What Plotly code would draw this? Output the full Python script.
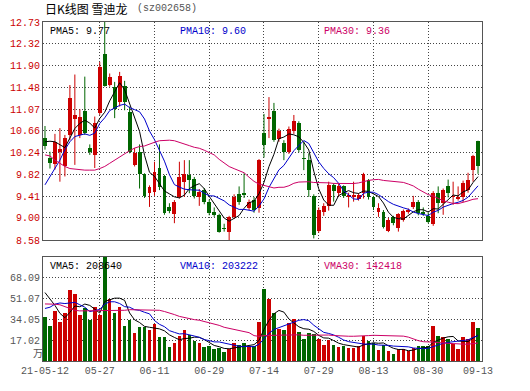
import plotly.graph_objects as go
import pandas as pd

# ---------------- data ----------------
tick_labels = ["21-05-12", "05-27", "06-11", "06-29", "07-14", "07-29", "08-13", "08-30", "09-13"]
tick_index = [0, 11, 22, 33, 44, 55, 66, 77, 87]

open_ = [10.52, 10.15, 10.03, 10.25, 9.99, 10.57, 10.88, 10.58, 11.04, 10.34,
         10.19, 11.00, 12.13, 11.53, 11.50, 11.20, 11.51, 11.02, 10.01, 10.26,
         9.84, 9.48, 9.50, 9.95, 9.79, 9.21, 9.07, 9.40, 9.69, 9.82,
         9.74, 9.40, 9.53, 9.31, 9.12, 9.06, 8.81, 8.74, 9.02, 9.45,
         9.47, 9.19, 9.34, 9.18, 10.61, 10.88, 11.04, 10.50, 10.42, 10.25,
         10.65, 10.81, 10.15, 10.10, 9.42, 8.75, 9.12, 9.23, 9.63, 9.48,
         9.60, 9.39, 9.40, 9.37, 9.47, 9.73, 9.39, 9.12, 9.12, 8.75,
         9.01, 8.80, 8.97, 9.12, 9.20, 9.31, 9.12, 9.04, 8.88, 9.48,
         9.28, 9.61, 9.40, 9.37, 9.39, 9.53, 9.92, 10.47]
high = [10.75, 10.26, 10.60, 10.71, 10.58, 11.53, 11.73, 11.07, 11.69, 10.40,
        10.93, 11.97, 12.73, 11.75, 11.59, 11.78, 11.61, 11.12, 10.33, 10.40,
        9.85, 9.62, 10.07, 10.40, 9.82, 9.28, 9.34, 10.07, 10.10, 10.10,
        9.78, 9.55, 9.57, 9.35, 9.20, 9.08, 8.89, 9.04, 9.45, 9.60,
        9.85, 9.35, 9.40, 10.12, 10.98, 11.30, 11.19, 10.70, 10.48, 10.74,
        10.96, 10.84, 10.45, 10.23, 9.45, 9.20, 9.28, 9.69, 9.66, 9.66,
        9.62, 9.48, 9.69, 9.47, 9.86, 9.74, 9.42, 9.28, 9.15, 9.00,
        9.04, 9.09, 9.16, 9.18, 9.42, 9.34, 9.20, 9.10, 9.51, 9.60,
        9.56, 9.73, 9.69, 9.60, 9.71, 9.86, 10.20, 10.47]
low = [10.30, 9.94, 9.92, 9.69, 9.79, 10.48, 10.01, 10.52, 10.58, 10.20,
       9.95, 10.96, 11.50, 11.50, 10.90, 11.12, 11.05, 10.23, 9.98, 9.56,
       9.38, 9.21, 9.42, 9.53, 9.06, 9.09, 8.90, 9.37, 9.40, 9.47,
       9.37, 9.23, 9.26, 9.05, 9.02, 8.72, 8.74, 8.58, 8.98, 9.25,
       9.38, 9.15, 9.10, 9.10, 10.15, 10.52, 10.45, 10.45, 10.10, 10.22,
       10.60, 10.25, 9.91, 9.40, 8.61, 8.72, 9.04, 9.14, 9.31, 9.40,
       9.38, 9.20, 9.31, 9.33, 9.37, 9.35, 9.15, 9.02, 8.80, 8.73,
       8.86, 8.74, 8.93, 9.08, 9.17, 9.05, 9.04, 8.90, 8.85, 9.09,
       9.06, 9.39, 9.25, 9.33, 9.30, 9.48, 9.69, 9.84]
close = [10.37, 10.04, 10.45, 10.31, 10.52, 11.28, 10.96, 10.93, 10.61, 10.25,
         10.80, 11.88, 11.52, 11.69, 11.08, 11.70, 11.21, 10.26, 10.23, 9.84,
         9.42, 9.59, 9.88, 9.58, 9.10, 9.14, 9.31, 9.78, 9.84, 9.72,
         9.42, 9.50, 9.31, 9.10, 9.06, 8.74, 8.78, 9.01, 9.40, 9.30,
         9.43, 9.31, 9.16, 10.10, 10.39, 10.93, 10.48, 10.65, 10.25, 10.69,
         10.84, 10.29, 10.12, 9.53, 8.67, 9.16, 9.23, 9.63, 9.51, 9.60,
         9.42, 9.44, 9.43, 9.44, 9.83, 9.39, 9.20, 9.18, 8.82, 8.96,
         8.90, 9.07, 9.14, 9.16, 9.31, 9.10, 9.07, 8.92, 9.48, 9.28,
         9.53, 9.47, 9.42, 9.40, 9.66, 9.72, 10.17, 9.98]
# volume in 万
volume = [36, 29, 41, 32, 39, 58, 55, 38, 43, 33.5,
          44, 38, 85.1, 51, 39, 44, 29, 33.5, 23, 28,
          28, 25.5, 30, 20, 20, 11.5, 15, 20.5, 25, 21,
          16, 14.5, 11.5, 12, 9.5, 11, 7.5, 10, 15, 13,
          15, 12, 12, 32, 59, 51, 39, 26, 25, 31,
          34, 24, 18, 23, 22, 18, 13.5, 17, 13, 11.5,
          12, 10.5, 11, 12, 20.5, 16, 15, 9, 13.5, 8.5,
          6, 10, 9.5, 8, 11, 12.5, 12.5, 12.5, 28.5, 20.5,
          19.5, 18, 14, 10, 19.5, 18, 32, 27]

# moving-average values before a full window is available
ma5_head = [10.45, 10.46, 10.45, 10.40]
ma10_head = [9.63, 9.79, 9.94, 10.10, 10.30, 10.45, 10.55, 10.58, 10.60]
ma30_head = [10.20, 10.18, 10.10, 10.04, 9.98, 9.94, 9.93, 9.91, 9.91, 9.91,
             9.91, 9.94, 9.98, 10.04, 10.10, 10.17, 10.23, 10.28, 10.33, 10.36,
             10.37, 10.41, 10.44, 10.47, 10.48, 10.48, 10.47, 10.44, 10.42]
vma5_head = [56, 51, 45.5, 39]
vma10_head = [43, 44, 46.5, 47.5, 47, 47.5, 48, 46, 44]
vma30_head = [46.7, 46.7, 46.5, 46, 44.5, 42.5, 41.5, 41, 41, 41,
              41, 41, 41, 41, 41, 41.5, 41.5, 42, 42, 42,
              42, 42, 42, 41.5, 40.5, 39.5, 38, 36.5, 35.5]

price_ticks = [8.58, 9.00, 9.41, 9.82, 10.24, 10.66, 11.07, 11.48, 11.90, 12.32, 12.73]
vol_ticks = [17.02, 34.05, 51.07, 68.09]
vol_max = 85.11

title_text = "日K线图 雪迪龙"
code_text = "(sz002658)"
price_ma_labels = ["PMA5: 9.77", "PMA10: 9.60", "PMA30: 9.36"]
vol_ma_labels = ["VMA5: 208640", "VMA10: 203222", "VMA30: 142418"]
vol_unit = "万"

# ---------------- styling ----------------
RED = "#CC0000"
GREEN = "#006600"
MA_COLORS = ["#000000", "#0000CC", "#CC0066"]
GRID = "#444444"
BORDER = "#555555"
MONO = "Liberation Mono, Courier New, monospace"

n = len(close)
idx = list(range(n))


def moving_average(values, window, head):
    s = pd.Series(values, dtype=float).rolling(window).mean().tolist()
    return list(head) + s[len(head):]


ma5 = moving_average(close, 5, ma5_head)
ma10 = moving_average(close, 10, ma10_head)
ma30 = moving_average(close, 30, ma30_head)
vma5 = moving_average(volume, 5, vma5_head)
vma10 = moving_average(volume, 10, vma10_head)
vma30 = moving_average(volume, 30, vma30_head)

up = [c >= o for o, c in zip(open_, close)]
colors = [RED if u else GREEN for u in up]
body_base = [min(o, c) for o, c in zip(open_, close)]
body_h = [max(abs(c - o), 0.015) for o, c in zip(open_, close)]

fig = go.Figure()

# wicks
for flag, col in ((True, RED), (False, GREEN)):
    wx, wy = [], []
    for i in idx:
        if up[i] == flag:
            wx += [i, i, None]
            wy += [low[i], high[i], None]
    fig.add_trace(go.Scatter(x=wx, y=wy, mode="lines", line=dict(color=col, width=1),
                             xaxis="x", yaxis="y", hoverinfo="skip"))

# bodies
fig.add_trace(go.Bar(x=idx, y=body_h, base=body_base, marker=dict(color=colors, line=dict(width=0)),
                     width=0.78, xaxis="x", yaxis="y"))

for ma, col in zip((ma5, ma10, ma30), MA_COLORS):
    fig.add_trace(go.Scatter(x=idx, y=ma, mode="lines", line=dict(color=col, width=1),
                             xaxis="x", yaxis="y"))

# volume
fig.add_trace(go.Bar(x=idx, y=volume, marker=dict(color=colors, line=dict(width=0)),
                     width=0.72, xaxis="x2", yaxis="y2"))
for ma, col in zip((vma5, vma10, vma30), MA_COLORS):
    fig.add_trace(go.Scatter(x=idx, y=ma, mode="lines", line=dict(color=col, width=1),
                             xaxis="x2", yaxis="y2"))

# ---------------- layout ----------------
W, H = 530, 391
ML, MR, MT, MB = 43, 48, 22, 30
PW, PH = W - ML - MR, H - MT - MB


def px(x):
    return (x - ML) / PW


def py(y):
    return (H - MB - y) / PH


xr = [-0.4, n - 0.2]
grid_idx = tick_index[1:-1]
axis_common = dict(showline=True, mirror=True, linecolor=BORDER, linewidth=1, zeroline=False,
                   fixedrange=True, automargin=False)

fig.update_layout(
    width=W, height=H,
    margin=dict(l=ML, r=MR, t=MT, b=MB, pad=0, autoexpand=False),
    paper_bgcolor="white", plot_bgcolor="white",
    showlegend=False, barmode="overlay", bargap=0,
    hovermode=False,
    xaxis=dict(domain=[0, 1], range=xr, anchor="y", tickvals=grid_idx, showticklabels=False,
               ticks="", showgrid=True, gridcolor=GRID, griddash="1px,2px", gridwidth=1,
               **axis_common),
    xaxis2=dict(domain=[0, 1], range=xr, anchor="y2", tickvals=tick_index, ticktext=tick_labels,
                ticks="", showgrid=False,
                tickfont=dict(family=MONO, size=10, color="#555555"),
                minor=dict(tickvals=grid_idx, showgrid=True, gridcolor=GRID,
                           griddash="1px,2px", gridwidth=1, ticks=""),
                **axis_common),
    yaxis=dict(domain=[py(240), 1], range=[price_ticks[0], price_ticks[-1]], anchor="x",
               tickvals=price_ticks, ticktext=[f"{v:.2f}" for v in price_ticks], ticks="",
               tickfont=dict(family=MONO, size=10, color=RED),
               showgrid=True, gridcolor=GRID, griddash="1px,2px", gridwidth=1, **axis_common),
    yaxis2=dict(domain=[0, py(257)], range=[0, vol_max], anchor="x2",
                tickvals=vol_ticks, ticktext=[f"{v:.2f}" for v in vol_ticks], ticks="",
                tickfont=dict(family=MONO, size=10, color="#555555"),
                showgrid=True, gridcolor=GRID, griddash="1px,2px", gridwidth=1, **axis_common),
)

ann = []
ann.append(dict(x=px(43), y=py(8), text=title_text, showarrow=False, xanchor="left", yanchor="middle",
                font=dict(family="Noto Sans CJK SC", size=12, color="#000000")))
ann.append(dict(x=px(135), y=py(8), text=code_text, showarrow=False, xanchor="left", yanchor="middle",
                font=dict(family=MONO, size=10, color="#555555")))
for lab, col, xp in zip(price_ma_labels, MA_COLORS, (48, 178, 322)):
    ann.append(dict(x=px(xp), y=py(32), text=lab, showarrow=False, xanchor="left", yanchor="middle",
                    font=dict(family=MONO, size=10, color=col)))
for lab, col, xp in zip(vol_ma_labels, MA_COLORS, (48, 178, 322)):
    ann.append(dict(x=px(xp), y=py(266), text=lab, showarrow=False, xanchor="left", yanchor="middle",
                    font=dict(family=MONO, size=10, color=col)))
ann.append(dict(x=px(38), y=py(352), text=vol_unit, showarrow=False, xanchor="center", yanchor="middle",
                font=dict(family="Noto Sans CJK SC", size=10, color="#555555")))
for a in ann:
    a.update(xref="paper", yref="paper")
fig.update_layout(annotations=ann)

fig.write_html("out.html", config={"displayModeBar": False, "staticPlot": True},
               post_script="document.body.style.margin='0';document.body.style.overflow='hidden';")
